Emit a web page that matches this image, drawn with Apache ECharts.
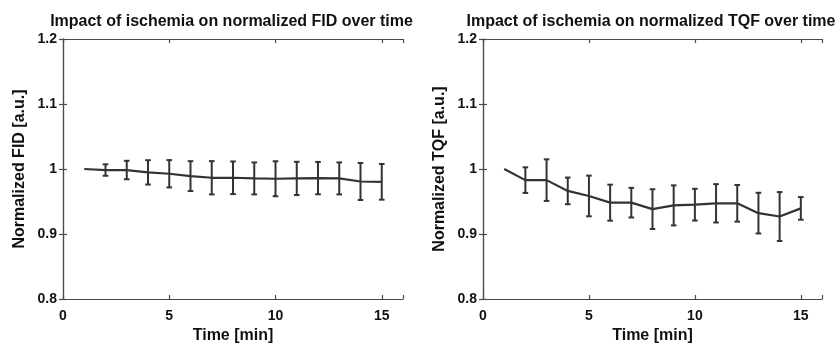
<!DOCTYPE html>
<html>
<head>
<meta charset="utf-8">
<script src="https://cdn.jsdelivr.net/npm/echarts@6/dist/echarts.min.js"></script>
<style>html,body{margin:0;padding:0;background:#fff}#c{width:836px;height:343px}</style>
</head>
<body>
<div id="c"></div>
<script>
const times = [1,2,3,4,5,6,7,8,9,10,11,12,13,14,15];
const fidMean = [1.000,0.9984,0.9984,0.9948,0.9927,0.9891,0.9865,0.9865,0.9855,0.985,0.9855,0.986,0.9855,0.9808,0.9803];
const fidErr  = [0,0.0088,0.0142,0.0187,0.021,0.023,0.0256,0.0251,0.0246,0.0269,0.0256,0.0249,0.0246,0.0285,0.0275];
const tqfMean = [1.000,0.9829,0.9829,0.9663,0.9585,0.9482,0.9482,0.9383,0.944,0.9451,0.9472,0.9472,0.9321,0.9269,0.9394];
const tqfErr  = [0,0.0197,0.032,0.0205,0.0313,0.0277,0.0228,0.0306,0.0308,0.0244,0.0295,0.0282,0.0313,0.0376,0.0174];
const titles = ['Impact of ischemia on normalized FID over time','Impact of ischemia on normalized TQF over time'];
const yNames = ['Normalized FID [a.u.]','Normalized TQF [a.u.]'];
const xName = 'Time [min]';
const xTicks = [0,5,10,15];
const yTicks = [0.8,0.9,1.0,1.1,1.2];

const chart = echarts.init(document.getElementById('c'));
const FONT = 'Liberation Sans, Arial, sans-serif';
const AX = '#4a4a4a';
const LC = '#333333';
const TXT = '#111111';
const grids = [
  {left:63, top:39, width:340, height:260, containLabel:false, outerBoundsMode:'none'},
  {left:483, top:39, width:339, height:260, containLabel:false, outerBoundsMode:'none'}
];
const titleCenters = [231.5, 651];
const xAxes = [], yAxes = [], series = [];
const means = [fidMean, tqfMean], errs = [fidErr, tqfErr];
grids.forEach((g, i) => {
  const axLine = {show:true, lineStyle:{color:AX, width:1.2}};
  const tick = {show:true, inside:true, length:4, lineStyle:{color:AX, width:1.2}};
  xAxes.push({type:'value', gridIndex:i, min:0, max:16, interval:5, position:'bottom',
    axisLine:axLine, axisTick:tick, splitLine:{show:false},
    axisLabel:{color:TXT, fontFamily:FONT, fontWeight:'bold', fontSize:14, margin:10,
      formatter:v => xTicks.includes(v) ? String(v) : ''},
    name:xName, nameLocation:'middle', nameGap:27,
    nameTextStyle:{color:TXT, fontFamily:FONT, fontWeight:'bold', fontSize:16}});
  xAxes.push({type:'value', gridIndex:i, min:0, max:16, interval:5, position:'top',
    axisLine:axLine, axisTick:tick, splitLine:{show:false}, axisLabel:{show:false}});
  yAxes.push({type:'value', gridIndex:i, min:0.8, max:1.2, interval:0.1, position:'left',
    axisLine:axLine, axisTick:tick, splitLine:{show:false},
    axisLabel:{color:TXT, fontFamily:FONT, fontWeight:'bold', fontSize:14, margin:6,
      formatter:v => { const r = Math.round(v*10)/10; return yTicks.some(t=>Math.abs(t-r)<1e-9) ? (r===1 ? '1' : String(r)) : ''; }},
    name:yNames[i], nameLocation:'middle', nameGap:35,
    nameTextStyle:{color:TXT, fontFamily:FONT, fontWeight:'bold', fontSize:16}});
  yAxes.push({type:'value', gridIndex:i, min:0.8, max:1.2, interval:0.1, position:'right',
    axisLine:axLine, axisTick:tick, splitLine:{show:false}, axisLabel:{show:false}});
  const m = means[i], e = errs[i];
  series.push({type:'line', xAxisIndex:i*2, yAxisIndex:i*2, data:times.map((t,k)=>[t,m[k]]),
    showSymbol:false, symbol:'none', lineStyle:{color:LC, width:2.2}, z:3, animation:false});
  series.push({type:'custom', xAxisIndex:i*2, yAxisIndex:i*2,
    data:times.map((t,k)=>[t,m[k]-e[k],m[k]+e[k]]).filter((d,k)=>e[k]>0),
    renderItem:(params, api) => {
      const x = api.value(0);
      const lo = api.coord([x, api.value(1)]);
      const hi = api.coord([x, api.value(2)]);
      const w = 2.8;
      const st = {stroke:LC, lineWidth:2};
      return {type:'group', children:[
        {type:'line', shape:{x1:lo[0],y1:lo[1],x2:hi[0],y2:hi[1]}, style:st},
        {type:'line', shape:{x1:lo[0]-w,y1:lo[1],x2:lo[0]+w,y2:lo[1]}, style:st},
        {type:'line', shape:{x1:hi[0]-w,y1:hi[1],x2:hi[0]+w,y2:hi[1]}, style:st}
      ]};
    }, z:4, animation:false});
});
chart.setOption({
  animation:false,
  title: titles.map((t,i)=>({text:t, left:titleCenters[i], top:14, textAlign:'center', padding:0,
    textStyle:{color:TXT, fontFamily:FONT, fontWeight:'bold', fontSize:16}})),
  grid: grids,
  xAxis: xAxes,
  yAxis: yAxes,
  series: series
});
</script>
</body>
</html>
